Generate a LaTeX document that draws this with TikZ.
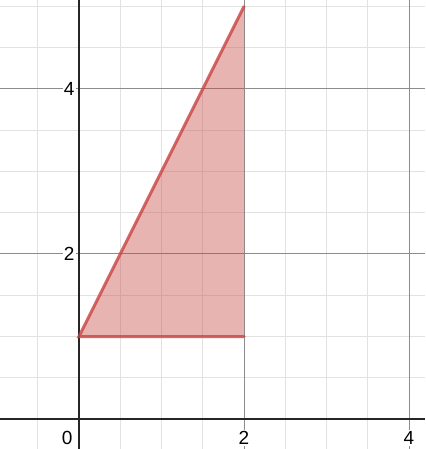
\documentclass[tikz,border=0pt]{standalone}
\usepackage{fontspec}
\setmainfont{Liberation Sans}
\usepackage{xcolor}
\usetikzlibrary{positioning}
\definecolor{dsred}{HTML}{C74440}
\definecolor{dsminor}{HTML}{E2E2E2}
\definecolor{dsmajor}{HTML}{8C8C8C}
\tikzset{
    minorgrid/.style={draw=dsminor, line width=1pt},
    majorgrid/.style={draw=dsmajor, line width=1pt},
    axisline/.style={draw=black!85, line width=2pt},
    ticklabel/.style={font=\fontsize{19}{21}\selectfont, fill=white,
        inner sep=1pt},
    region/.style={fill=dsred, fill opacity=0.4, draw=none},
    edge/.style={draw=dsred, draw opacity=0.8, line width=3pt, line cap=round},
}

\begin{document}
\begin{tikzpicture}[x=82.5pt, y=82.5pt]

    % ── Frame ──────────────────────────────────────────────────────────────
    \useasboundingbox (-0.9576,-0.3636) rectangle (4.1939,5.0788);
    \fill[white] (-0.9576,-0.3636) rectangle (4.1939,5.0788);

    % ── Grid ───────────────────────────────────────────────────────────────
    \foreach \x in {-0.5,0.5,1,1.5,2.5,3,3.5}
        \draw[minorgrid] (\x,-0.3636) -- (\x,5.0788);
    \foreach \y in {0.5,1,1.5,2.5,3,3.5,4.5,5}
        \draw[minorgrid] (-0.9576,\y) -- (4.1939,\y);
    \foreach \x in {2,4}
        \draw[majorgrid] (\x,-0.3636) -- (\x,5.0788);
    \foreach \y in {2,4}
        \draw[majorgrid] (-0.9576,\y) -- (4.1939,\y);

    % ── Triangle ───────────────────────────────────────────────────────────
    \coordinate (A) at (0,1);
    \coordinate (B) at (2,1);
    \coordinate (C) at (2,5);
    \fill[region] (A) -- (B) -- (C) -- cycle;

    % ── Axes ───────────────────────────────────────────────────────────────
    \draw[axisline] (-0.9576,0) -- (4.1939,0);
    \draw[axisline] (0,-0.3636) -- (0,5.0788);

    % ── Edges ──────────────────────────────────────────────────────────────
    \draw[edge] (C) -- (A) -- (B);

    % ── Tick labels ────────────────────────────────────────────────────────
    \node[ticklabel] (x0) at (-0.145,-0.23) {0};
    \node[ticklabel] (x2) at (2,-0.23) {2};
    \node[ticklabel] (x4) at (4,-0.23) {4};
    \node[ticklabel, anchor=east] (y2) at (-0.04,2) {2};
    \node[ticklabel, anchor=east] (y4) at (-0.04,4) {4};

\end{tikzpicture}
\end{document}
